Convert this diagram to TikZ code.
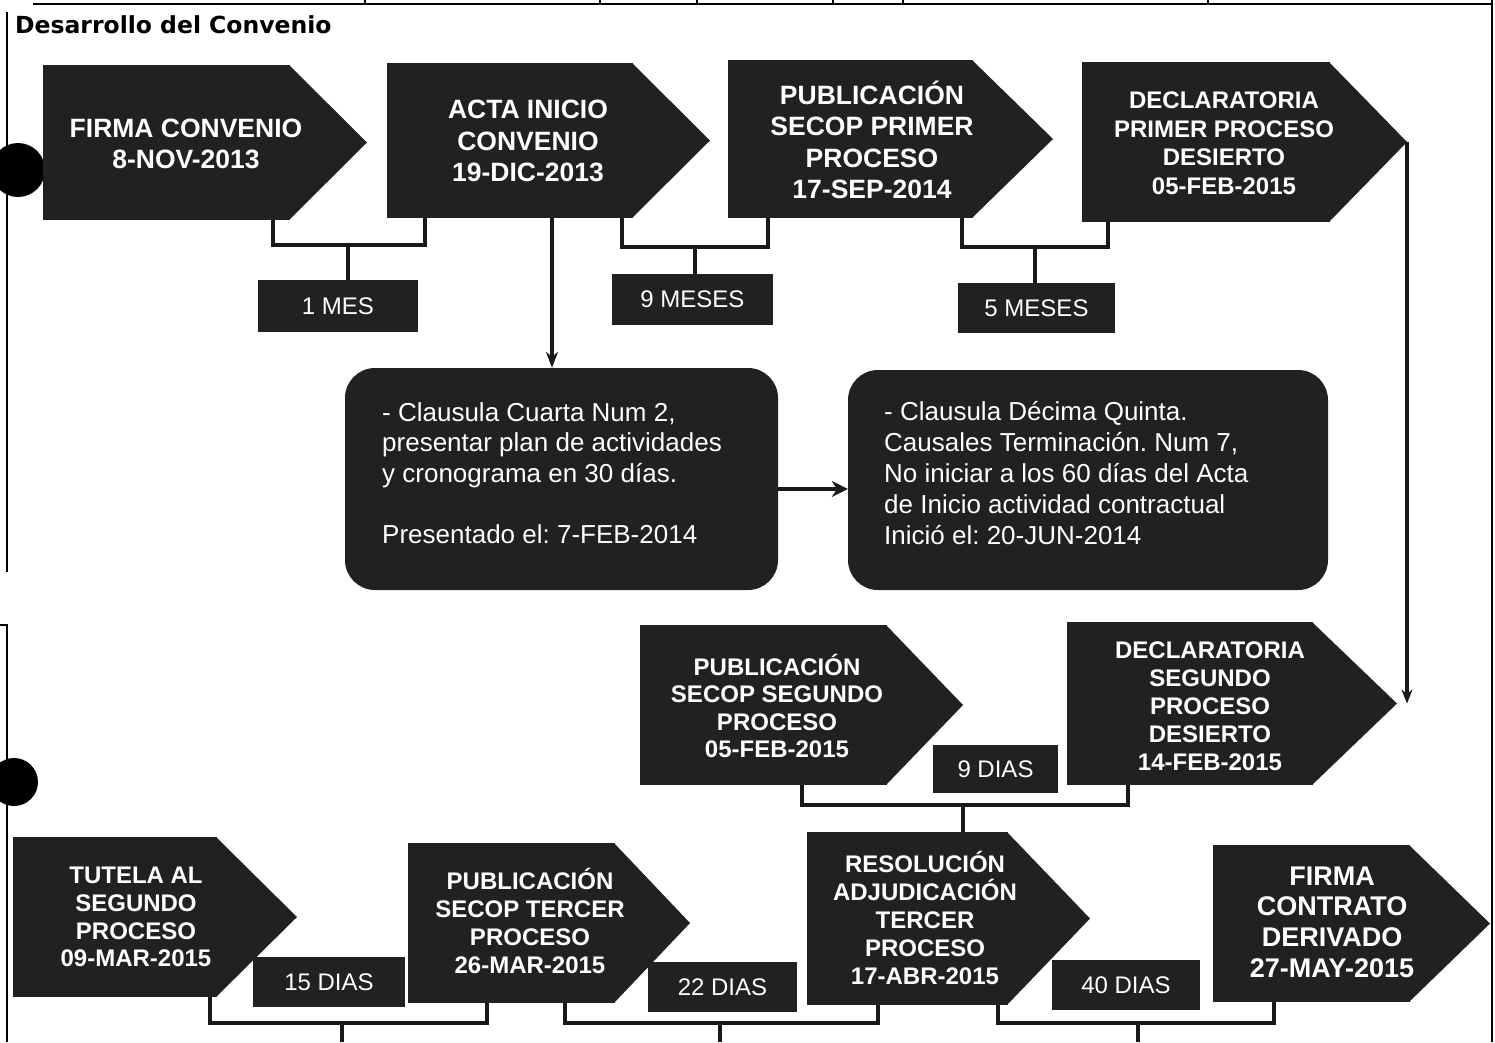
\documentclass[tikz,border=0pt]{standalone}
\usepackage{fontspec}
\setmainfont{Liberation Sans}
\newfontfamily\titlefont{DejaVu Sans}
\usetikzlibrary{arrows.meta,calc}
\frenchspacing

\tikzset{
  evtrect/.style={fill=black!87, draw=none, inner sep=0pt, outer sep=0pt},
  evttxt/.style={text=white, align=center, inner sep=0pt},
  fbig/.style={font=\fontsize{26.5}{31.5}\selectfont\bfseries},
  fmid/.style={font=\fontsize{24}{28}\selectfont\bfseries},
  lbl/.style={fill=black!87, text=white, inner sep=0pt, font=\fontsize{24}{28}\selectfont},
  rbox/.style={fill=black!87, rounded corners=30pt, inner sep=0pt},
  rtxt/.style={text=white, align=left, inner sep=0pt, anchor=west, font=\fontsize{26}{30.5}\selectfont},
  conn/.style={line width=3.2pt, draw=black!90},
  arr/.style={line width=3.6pt, draw=black!90},
  frame/.style={line width=1.8pt, draw=black},
}

% #1 name, #2 x0, #3 y0, #4 x1 (end of rectangle), #5 y1, #6 tip x
\newcommand{\evtshape}[6]{%
  \node[evtrect, minimum width={#4-#2}, minimum height={#5-#3}, anchor=north west] (#1) at (#2,#3) {};
  \coordinate (#1tip) at (#6,{(#3+#5)/2});
  \fill[black!87] ([xshift=-1pt]#1.north east) -- (#1tip) -- ([xshift=-1pt]#1.south east) -- cycle;
}

\begin{document}
\begin{tikzpicture}[x=1pt,y=-1pt]
\useasboundingbox (0,0) rectangle (1495,1042);

% page frame remnants
\draw[frame] (33,4) -- (1493,4);
\foreach \tx in {365,600,697,833,903,1208} \draw[frame] (\tx,0) -- (\tx,4);
\draw[frame] (1492,0) -- (1492,1042);
\draw[frame] (7,12) -- (7,572);
\draw[frame] (0,625) -- (7,625) -- (7,1042);
\fill[black] (18,170) circle (27pt);
\fill[black] (14,782) circle (24pt);

% title
\node[anchor=base west, inner sep=0pt, font=\titlefont\bfseries\fontsize{23.5}{28}\selectfont] (title) at (15,33) {Desarrollo del Convenio};

% ---- row 1 ----
\evtshape{b1}{43}{65}{290}{220}{367}
\evtshape{b2}{387}{63}{633}{218}{710}
\evtshape{b3}{728}{60}{973}{218}{1053}
\evtshape{b4}{1082}{62}{1330}{222}{1407}

\node[evttxt, fbig] (b1t) at (186,144) {FIRMA CONVENIO\\8-NOV-2013};
\node[evttxt, fbig] (b2t) at (528,141) {ACTA INICIO\\CONVENIO\\19-DIC-2013};
\node[evttxt, fbig] (b3t) at (872,140) {PUBLICACIÓN\\SECOP PRIMER\\PROCESO\\17-SEP-2014};
\node[evttxt, fmid, font=\fontsize{24}{28.5}\selectfont\bfseries] (b4t) at (1224,143) {DECLARATORIA\\PRIMER PROCESO\\DESIERTO\\05-FEB-2015};

\node[lbl, minimum width=160, minimum height=52] (l1) at (338,306) {1 MES};
\node[lbl, minimum width=161, minimum height=51] (l2) at (692.5,299.5) {9 MESES};
\node[lbl, minimum width=157, minimum height=50] (l3) at (1036.5,308) {5 MESES};

\coordinate (j1) at (348,245);
\draw[conn] (273,0 |- b1.south) |- (j1) -| (425,0 |- b2.south);
\draw[conn] (j1) -- (j1 |- l1.north);
\coordinate (j2) at (695,247);
\draw[conn] (622,0 |- b2.south) |- (j2) -| (768,0 |- b3.south);
\draw[conn] (j2) -- (j2 |- l2.north);
\coordinate (j3) at (1035,247);
\draw[conn] (962,0 |- b3.south) |- (j3) -| (1108,0 |- b4.south);
\draw[conn] (j3) -- (j3 |- l3.north);

% ---- rounded boxes ----
\node[rbox, minimum width=433, minimum height=222] (r1) at (561.5,479) {};
\node[rbox, minimum width=480, minimum height=220] (r2) at (1088,480) {};
\node[rtxt] (r1t) at (382,473) {- Clausula Cuarta Num 2,\\presentar plan de actividades\\y cronograma en 30 días.\\[31pt]Presentado el: 7-FEB-2014};
\node[rtxt, font=\fontsize{26}{31}\selectfont] (r2t) at (884,473) {- Clausula Décima Quinta.\\Causales Terminación. Num 7,\\No iniciar a los 60 días del Acta\\de Inicio actividad contractual\\Inició el: 20-JUN-2014};

\draw[arr, -{Stealth[length=16pt,width=12pt]}] (552,0 |- b2.south) -- (552,0 |- r1.north);
\draw[arr, line width=4pt, -{Stealth[length=16pt,width=16pt]}] (r1.east |- 0,489) -- (r2.west |- 0,489);

% ---- row 2 ----
\evtshape{p2}{640}{625}{887}{785}{963}
\evtshape{d2}{1067}{622}{1313}{785}{1397}
\node[evttxt, fmid, font=\fontsize{24}{27.5}\selectfont\bfseries] (p2t) at (777,706) {PUBLICACIÓN\\SECOP SEGUNDO\\PROCESO\\05-FEB-2015};
\node[evttxt, fmid] (d2t) at (1210,706) {DECLARATORIA\\SEGUNDO\\PROCESO\\DESIERTO\\14-FEB-2015};
\node[lbl, minimum width=125, minimum height=48] (l4) at (995.5,769) {9 DIAS};

\draw[arr, -{Stealth[length=14pt,width=11pt]}] (b4tip) -- (b4tip |- d2tip);

% ---- row 3 ----
\evtshape{t3}{13}{837}{217}{997}{297}
\evtshape{p3}{408}{843}{615}{1003}{690}
\evtshape{rs}{807}{832}{1008}{1005}{1090}
\evtshape{fc}{1213}{845}{1410}{1002}{1490}
\node[evttxt, fmid, font=\fontsize{24}{27.7}\selectfont\bfseries] (t3t) at (136,917) {TUTELA AL\\SEGUNDO\\PROCESO\\09-MAR-2015};
\node[evttxt, fmid, font=\fontsize{24}{27.7}\selectfont\bfseries] (p3t) at (530,921) {PUBLICACIÓN\\SECOP TERCER\\PROCESO\\26-MAR-2015};
\node[evttxt, fmid] (rst) at (925,918) {RESOLUCIÓN\\ADJUDICACIÓN\\TERCER\\PROCESO\\17-ABR-2015};
\node[evttxt, font=\fontsize{27}{30.7}\selectfont\bfseries] (fct) at (1332,922) {FIRMA\\CONTRATO\\DERIVADO\\27-MAY-2015};

\node[lbl, minimum width=152, minimum height=50] (l5) at (329,982) {15 DIAS};
\node[lbl, minimum width=149, minimum height=50] (l6) at (722.5,987) {22 DIAS};
\node[lbl, minimum width=148, minimum height=50] (l7) at (1126,985) {40 DIAS};

\coordinate (j4) at (963,805);
\draw[conn] (802,0 |- p2.south) |- (j4) -| (1128,0 |- d2.south);
\draw[conn] (j4) -- (j4 |- rs.north);

\coordinate (jA) at (342,1023);
\coordinate (jAe) at (342,1042);
\draw[conn] (210,0 |- t3.south) |- (jA) -| (487,0 |- p3.south);
\draw[conn] (jA) -- (jAe);

\coordinate (jB) at (720,1023);
\coordinate (jBe) at (720,1042);
\draw[conn] (565,0 |- p3.south) |- (jB) -| (878,0 |- rs.south);
\draw[conn] (jB) -- (jBe);

\coordinate (jC) at (1138,1023);
\coordinate (jCe) at (1138,1042);
\draw[conn] (998,0 |- rs.south) |- (jC) -| (1274,0 |- fc.south);
\draw[conn] (jC) -- (jCe);
\end{tikzpicture}
\end{document}
